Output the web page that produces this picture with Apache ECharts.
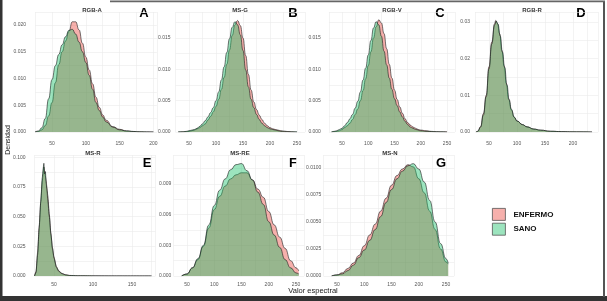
<!DOCTYPE html>
<html>
<head>
<meta charset="utf-8">
<script src="https://cdn.jsdelivr.net/npm/echarts@6/dist/echarts.min.js"></script>
<style>
html, body { margin: 0; padding: 0; background: #fff; }
#chart { width: 607px; height: 301px; }
</style>
</head>
<body>
<div id="chart"></div>
<script>
// densidad por valor espectral, [valor, densidad]
const rgbA_enf = [[25,0],[30,0.0001],[35,0.0004],[40,0.0012],[45,0.003],[50,0.0055],[55,0.0092],[60,0.0126],[65,0.015],[70,0.017],[75,0.0188],[80,0.0206],[85,0.0206],[90,0.0191],[95,0.0166],[100,0.014],[105,0.0116],[110,0.009],[115,0.0065],[120,0.0046],[125,0.0032],[130,0.0022],[140,0.001],[150,0.0005],[160,0.0002],[170,0.0001],[180,0.00004],[190,0.00002],[200,0]];
const rgbA_san = [[25,0],[30,0.0002],[35,0.0008],[40,0.0025],[45,0.0062],[50,0.0098],[55,0.0124],[60,0.0145],[65,0.0163],[70,0.0178],[75,0.019],[80,0.0192],[85,0.0183],[90,0.0168],[95,0.015],[100,0.013],[105,0.0106],[110,0.008],[115,0.0055],[120,0.004],[125,0.0028],[130,0.0019],[140,0.0009],[150,0.0004],[160,0.0002],[170,0.0001],[180,0.00003],[190,0.00001],[200,0]];

const msG_enf = [[30,0],[35,0.00001],[40,0.00002],[45,0.00005],[50,0.0001],[55,0.0002],[60,0.0003],[65,0.0005],[70,0.0007],[75,0.001],[80,0.0013],[85,0.0019],[90,0.0025],[95,0.0032],[100,0.0041],[105,0.0052],[110,0.0068],[115,0.0087],[120,0.0108],[125,0.0131],[130,0.0154],[135,0.0171],[140,0.0178],[145,0.017],[150,0.015],[155,0.0122],[160,0.0092],[165,0.0067],[170,0.0048],[175,0.0036],[180,0.0027],[185,0.002],[190,0.0014],[195,0.001],[200,0.0007],[205,0.0005],[210,0.0004],[215,0.0003],[220,0.0002],[225,0.00015],[230,0.0001],[235,0.00006],[240,0.00003],[245,0.00001],[250,0]];
const msG_san = [[30,0],[35,0.00002],[40,0.00005],[45,0.0001],[50,0.0002],[55,0.0003],[60,0.0004],[65,0.0006],[70,0.0009],[75,0.0013],[80,0.0018],[85,0.0024],[90,0.0031],[95,0.0039],[100,0.005],[105,0.0064],[110,0.0083],[115,0.0104],[120,0.0127],[125,0.0149],[130,0.0167],[135,0.0176],[140,0.0171],[145,0.0155],[150,0.013],[155,0.0099],[160,0.0072],[165,0.0052],[170,0.0039],[175,0.0028],[180,0.002],[185,0.0014],[190,0.001],[195,0.0007],[200,0.0005],[205,0.0004],[210,0.0003],[215,0.0002],[220,0.0001],[230,0.00005],[240,0.00002],[250,0]];

const rgbV_enf = [[30,0],[35,0.00005],[40,0.0001],[45,0.0002],[50,0.0004],[55,0.0007],[60,0.001],[65,0.0014],[70,0.002],[75,0.0028],[80,0.0037],[85,0.005],[90,0.0066],[95,0.0085],[100,0.0106],[105,0.0128],[110,0.015],[115,0.0168],[120,0.0179],[125,0.0174],[130,0.0157],[135,0.0133],[140,0.0108],[145,0.0086],[150,0.0067],[155,0.0052],[160,0.004],[165,0.003],[170,0.0021],[175,0.0015],[180,0.0011],[185,0.0008],[190,0.0006],[195,0.0004],[200,0.0003],[210,0.0002],[220,0.0001],[230,0.00005],[240,0.00002],[250,0]];
const rgbV_san = [[30,0],[35,0.0001],[40,0.0002],[45,0.0004],[50,0.0006],[55,0.001],[60,0.0015],[65,0.0021],[70,0.0028],[75,0.0038],[80,0.0049],[85,0.0064],[90,0.0083],[95,0.0102],[100,0.0123],[105,0.0146],[110,0.0166],[115,0.0176],[120,0.0171],[125,0.0153],[130,0.0129],[135,0.0107],[140,0.0086],[145,0.0068],[150,0.0053],[155,0.0042],[160,0.0032],[165,0.0024],[170,0.0017],[175,0.0012],[180,0.0008],[185,0.0006],[190,0.0004],[200,0.0002],[210,0.0001],[230,0.00003],[250,0]];

const rgbR_enf = [[27,0],[30,0.0002],[35,0.0015],[40,0.005],[45,0.01],[50,0.0178],[55,0.0245],[60,0.0295],[62,0.0304],[65,0.0296],[69,0.0268],[73,0.0222],[77,0.018],[81,0.0132],[85,0.009],[90,0.006],[95,0.004],[100,0.003],[110,0.002],[118,0.0014],[130,0.0008],[142,0.0005],[160,0.0002],[180,0.0001],[200,0.00004],[234,0]];
const rgbR_san = [[27,0],[30,0.0002],[35,0.0013],[40,0.0046],[45,0.0096],[50,0.0172],[55,0.024],[60,0.0292],[63,0.0302],[66,0.0294],[70,0.0262],[74,0.0218],[78,0.0176],[82,0.0128],[86,0.0088],[90,0.0062],[95,0.0041],[100,0.003],[110,0.002],[118,0.0014],[130,0.0008],[142,0.0005],[160,0.0002],[180,0.0001],[200,0.00004],[234,0]];

const msR_enf = [[25,0],[27,0.004],[29,0.02],[31,0.042],[33,0.062],[35,0.08],[36,0.086],[37,0.092],[38,0.088],[39,0.084],[40,0.08],[41,0.074],[42,0.068],[44,0.052],[46,0.036],[48,0.024],[50,0.016],[53,0.008],[56,0.0045],[60,0.0022],[65,0.001],[70,0.0005],[80,0.0002],[100,0.0001],[130,0.00003],[175,0]];
const msR_san = [[25,0],[27,0.003],[29,0.018],[31,0.04],[33,0.063],[35,0.083],[36,0.09],[37,0.095],[38,0.086],[39,0.088],[40,0.078],[41,0.072],[42,0.064],[44,0.05],[46,0.035],[48,0.023],[50,0.015],[53,0.0075],[56,0.004],[60,0.002],[65,0.0009],[70,0.0004],[80,0.0002],[100,0.0001],[130,0.00003],[175,0]];

const msRE_enf = [[40,0],[50,0.0002],[60,0.0008],[70,0.0016],[80,0.0029],[90,0.0047],[100,0.0065],[110,0.0078],[120,0.0088],[130,0.0095],[140,0.0099],[150,0.0101],[160,0.0101],[170,0.0094],[180,0.0085],[190,0.0077],[200,0.0063],[210,0.005],[220,0.0038],[230,0.0027],[240,0.0015],[250,0.0008],[255,0.0005]];
const msRE_san = [[40,0],[50,0.0002],[60,0.0008],[70,0.0017],[80,0.003],[90,0.005],[100,0.0069],[110,0.0084],[120,0.0095],[130,0.0104],[140,0.0109],[150,0.011],[160,0.0103],[170,0.0094],[180,0.0082],[190,0.007],[200,0.0053],[210,0.004],[220,0.0028],[230,0.0016],[240,0.0008],[250,0.0003],[255,0.0002]];

const msN_enf = [[40,0],[50,0.0001],[60,0.0003],[70,0.0007],[80,0.0012],[90,0.0019],[100,0.0028],[110,0.0038],[120,0.0048],[130,0.006],[140,0.0072],[150,0.0084],[160,0.0093],[170,0.0099],[180,0.0103],[190,0.0101],[200,0.009],[210,0.0077],[220,0.006],[230,0.0043],[240,0.0025],[250,0.0013],[254,0.0011]];
const msN_san = [[40,0],[50,0.0001],[60,0.0002],[70,0.0005],[80,0.001],[90,0.0017],[100,0.0024],[110,0.0033],[120,0.0043],[130,0.0055],[140,0.0068],[150,0.008],[160,0.009],[170,0.0097],[180,0.0102],[190,0.0104],[200,0.0099],[210,0.0087],[220,0.007],[230,0.005],[240,0.003],[250,0.0016],[254,0.0012]];

const grupos = ['ENFERMO', 'SANO'];
const titulos = ['RGB-A', 'MS-G', 'RGB-V', 'RGB-R', 'MS-R', 'MS-RE', 'MS-N'];
const letras = ['A', 'B', 'C', 'D', 'E', 'F', 'G'];
const datos = [
  [rgbA_enf, rgbA_san], [msG_enf, msG_san], [rgbV_enf, rgbV_san], [rgbR_enf, rgbR_san],
  [msR_enf, msR_san], [msRE_enf, msRE_san], [msN_enf, msN_san]
];

// layout of each facet
const panels = [
  { left: 35.1, width: 121.7, top: 12, height: 120, xmax: 205, ymax: 0.02243, step: 0.005, dec: 3, lm: 9, tx: 92, ty: 10, lx: 144, ly: 13 },
  { left: 175.5, width: 129.6, top: 12, height: 120, xmax: 265, ymax: 0.01915, step: 0.005, dec: 3, lm: 5, tx: 240, ty: 10, lx: 293, ly: 13 },
  { left: 328.9, width: 126, top: 12, height: 120, xmax: 265, ymax: 0.01915, step: 0.005, dec: 3, lm: 8, tx: 392, ty: 10, lx: 440, ly: 13 },
  { left: 475, width: 123.2, top: 12, height: 120, xmax: 245, ymax: 0.0327, step: 0.01, dec: 2, lm: 5, tx: 532, ty: 10, lx: 581, ly: 13 },
  { left: 34.5, width: 120.9, top: 155, height: 121, xmax: 180, ymax: 0.102, step: 0.025, dec: 3, lm: 9, tx: 93, ty: 153, lx: 147, ly: 163 },
  { left: 173.4, width: 130.8, top: 155, height: 121, xmax: 265, ymax: 0.01184, step: 0.003, dec: 3, lm: 2, tx: 240, ty: 153, lx: 293, ly: 163 },
  { left: 323.4, width: 130.8, top: 155, height: 121, xmax: 265, ymax: 0.0112, step: 0.0025, dec: 4, lm: 2, tx: 390, ty: 153, lx: 441, ly: 163 }
];

const fills = ['rgba(235,80,70,0.45)', 'rgba(20,190,100,0.42)'];
const grid = '#ebebeb';

function yLabel(step, dec) {
  return function (v) {
    const r = v / step;
    return Math.abs(r - Math.round(r)) < 1e-6 ? v.toFixed(dec) : '';
  };
}

const grids = [], xAxes = [], yAxes = [], series = [], texts = [];
panels.forEach(function (p, i) {
  grids.push({ left: p.left, top: p.top, width: p.width, height: p.height });
  xAxes.push({
    type: 'value', gridIndex: i, min: 25, max: p.xmax, interval: 25,
    axisLine: { show: false }, axisTick: { show: false },
    splitLine: { lineStyle: { color: grid, width: 0.6 } },
    axisLabel: {
      fontSize: 5, color: '#555', margin: i < 4 ? 9 : 6,
      formatter: function (v) { return v % 50 === 0 ? String(v) : ''; }
    }
  });
  yAxes.push({
    type: 'value', gridIndex: i, min: 0, max: p.ymax, interval: p.step / 2,
    axisLine: { show: false }, axisTick: { show: false },
    splitLine: { lineStyle: { color: grid, width: 0.6 } },
    axisLabel: { fontSize: 5, color: '#555', margin: p.lm, formatter: yLabel(p.step, p.dec) }
  });
  grupos.forEach(function (g, k) {
    series.push({
      type: 'line', name: g, xAxisIndex: i, yAxisIndex: i,
      data: datos[i][k],
      smooth: i === 4 ? 0.2 : 0.5, smoothMonotone: 'x',
      symbol: 'none', showSymbol: false,
      lineStyle: { color: '#1a1a1a', width: 0.6 },
      itemStyle: { color: fills[k] },
      areaStyle: { color: fills[k], opacity: 1 },
      z: 2 + k
    });
  });
  texts.push({
    type: 'text', x: p.tx, y: p.ty,
    style: { text: titulos[i], font: 'bold 6px "Liberation Sans", Arial, sans-serif', fill: '#333', align: 'center', verticalAlign: 'middle' }
  });
  texts.push({
    type: 'text', x: p.lx, y: p.ly,
    style: { text: letras[i], font: 'bold 13px "Liberation Sans", Arial, sans-serif', fill: '#000', align: 'center', verticalAlign: 'middle' }
  });
});

texts.push({
  type: 'text', x: 8, y: 140, rotation: Math.PI / 2,
  style: { text: 'Densidad', font: '7px "Liberation Sans", Arial, sans-serif', fill: '#222', align: 'center', verticalAlign: 'middle' }
});
texts.push({
  type: 'text', x: 313, y: 291,
  style: { text: 'Valor espectral', font: '7.5px "Liberation Sans", Arial, sans-serif', fill: '#222', align: 'center', verticalAlign: 'middle' }
});
// frame
texts.push({ type: 'rect', shape: { x: 0, y: 0, width: 2.5, height: 301 }, style: { fill: '#333' } });
texts.push({ type: 'rect', shape: { x: 0, y: 296, width: 607, height: 5 }, style: { fill: '#333' } });
texts.push({ type: 'rect', shape: { x: 603, y: 1, width: 2, height: 296 }, style: { fill: '#555' } });
texts.push({ type: 'rect', shape: { x: 110, y: 0.5, width: 495, height: 1.8 }, style: { fill: '#666' } });

const chart = echarts.init(document.getElementById('chart'));
chart.setOption({
  animation: false,
  grid: grids,
  xAxis: xAxes,
  yAxis: yAxes,
  legend: {
    left: 487, top: 203, orient: 'vertical', icon: 'rect',
    itemWidth: 13, itemHeight: 12, itemGap: 2,
    textStyle: { fontSize: 8, fontWeight: 'bold', color: '#111', padding: [0, 0, 0, 3] },
    selectedMode: false,
    data: grupos.map(function (g, k) {
      return { name: g, itemStyle: { color: fills[k], borderColor: '#555', borderWidth: 0.8 } };
    })
  },
  series: series,
  graphic: texts
});
</script>
</body>
</html>
